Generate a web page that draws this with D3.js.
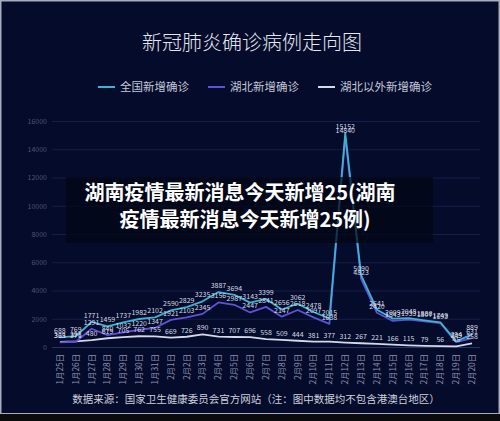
<!DOCTYPE html>
<html><head><meta charset="utf-8">
<script src="https://cdn.jsdelivr.net/npm/d3@7"></script>
<style>html,body{margin:0;padding:0;background:#000;}svg{display:block;}</style>
</head><body><svg id="c" width="500" height="421"></svg>
<script>
const dates = ['1月25日','1月26日','1月27日','1月28日','1月29日','1月30日','1月31日','2月1日','2月2日','2月3日','2月4日','2月5日','2月6日','2月7日','2月8日','2月9日','2月10日','2月11日','2月12日','2月13日','2月14日','2月15日','2月16日','2月17日','2月18日','2月19日','2月20日'];
const national = [688,769,1771,1459,1737,1982,2102,2590,2829,3235,3887,3694,3143,3399,2656,3062,2478,2015,15152,5090,2641,2009,2048,1886,1749,394,889];
const hubei = [323,371,1291,840,1032,1220,1347,1921,2103,2345,3156,2987,2447,2841,2147,2618,2097,1638,14840,4823,2420,1843,1933,1807,1693,349,631];
const outside = [365,398,480,619,705,762,755,669,726,890,731,707,696,558,509,444,381,377,312,267,221,166,115,79,56,45,258];
const yTicks = [0,2000,4000,6000,8000,10000,12000,14000,16000];
const seriesNames = ['全国新增确诊','湖北新增确诊','湖北以外新增确诊'];
const title = '新冠肺炎确诊病例走向图';
const source = '数据来源：国家卫生健康委员会官方网站（注：图中数据均不包含港澳台地区）';
const overlayLines = ['湖南疫情最新消息今天新增25(湖南','疫情最新消息今天新增25例)'];

const colors = ['#3db3d0','#5f52d6','#d4d8ea'];
const font = '"Noto Sans CJK SC","Noto Sans",sans-serif';
const svg = d3.select('#c');

// frame
svg.append('rect').attr('width',500).attr('height',421).attr('fill','#0b0b0e');
svg.append('rect').attr('x',0).attr('y',0).attr('width',500).attr('height',414).attr('fill','#a9adbb');
svg.append('rect').attr('x',1.5).attr('y',1.5).attr('width',497).attr('height',411.5).attr('fill','#040b2b');

const x = d3.scaleBand().domain(dates).range([52,480]);
const y = d3.scaleLinear().domain([0,16000]).range([347,121]);
const cx = d => x(d) + x.bandwidth()/2;

// grid
svg.append('g').selectAll('line').data(yTicks).join('line')
  .attr('x1',52).attr('x2',480).attr('y1',d=>y(d)+0.5).attr('y2',d=>y(d)+0.5)
  .attr('stroke',d=>d===0?'#2a3360':'#161f4a').attr('stroke-width',1);

const yAxis = d3.axisLeft(y).tickValues(yTicks).tickSize(0).tickPadding(5).tickFormat(d=>d);
const ya = svg.append('g').attr('transform','translate(52,0)').call(yAxis);
ya.select('.domain').remove();
ya.selectAll('text').attr('fill','#4d5578').attr('font-size',7).attr('font-family',font);

const xAxis = d3.axisBottom(x).tickSize(0).tickPadding(0);
const xa = svg.append('g').attr('transform','translate(0,347)').call(xAxis);
xa.select('.domain').remove();
xa.selectAll('text').attr('fill','#8a91ad').attr('font-size',8.3).attr('font-family',font)
  .attr('text-anchor','end').attr('dy','0.35em')
  .attr('transform','translate(0,7) rotate(-90)').attr('x',0).attr('y',0);

const allSeries = [national, hubei, outside];
const line = d3.line().x((d,i)=>cx(dates[i])).y(d=>y(d));
// draw bottom-up
[2,1,0].forEach(k=>{
  svg.append('path').datum(allSeries[k]).attr('d',line)
    .attr('fill','none').attr('stroke',colors[k]).attr('stroke-width',1.8).attr('stroke-linejoin','round');
});
[0,1,2].forEach(k=>{
  svg.append('g').selectAll('text').data(allSeries[k]).join('text')
    .attr('x',(d,i)=>cx(dates[i])).attr('y',d=>y(d)-4)
    .attr('text-anchor','middle').attr('font-size',7).attr('font-family',font)
    .attr('fill','#d7dae6').text(d=>d);
});

// title
svg.append('text').attr('x',252).attr('y',50).attr('text-anchor','middle')
  .attr('font-size',20).attr('font-weight',300).attr('font-family',font).attr('fill','#e4e6ee').text(title);

// legend
const legX = [98,208,318];
seriesNames.forEach((n,k)=>{
  svg.append('line').attr('x1',legX[k]).attr('x2',legX[k]+17).attr('y1',87).attr('y2',87)
    .attr('stroke',colors[k]).attr('stroke-width',2);
  svg.append('text').attr('x',legX[k]+22).attr('y',91).attr('font-size',11.5)
    .attr('font-family',font).attr('fill','#c3c7d6').text(n);
});

// source
svg.append('text').attr('x',256).attr('y',403).attr('text-anchor','middle')
  .attr('font-size',10.5).attr('font-family',font).attr('fill','#cdd0dc').text(source);

// overlay
svg.append('rect').attr('x',66).attr('y',177).attr('width',367).attr('height',66)
  .attr('fill','rgba(3,6,20,0.72)');
svg.append('text').attr('x',240).attr('y',200).attr('text-anchor','middle')
  .attr('font-size',20).attr('font-weight',700).attr('font-family',font).attr('fill','#ffffff').text(overlayLines[0]);
svg.append('text').attr('x',245).attr('y',227).attr('text-anchor','middle')
  .attr('font-size',20).attr('font-weight',700).attr('font-family',font).attr('fill','#ffffff').text(overlayLines[1]);
</script></body></html>
